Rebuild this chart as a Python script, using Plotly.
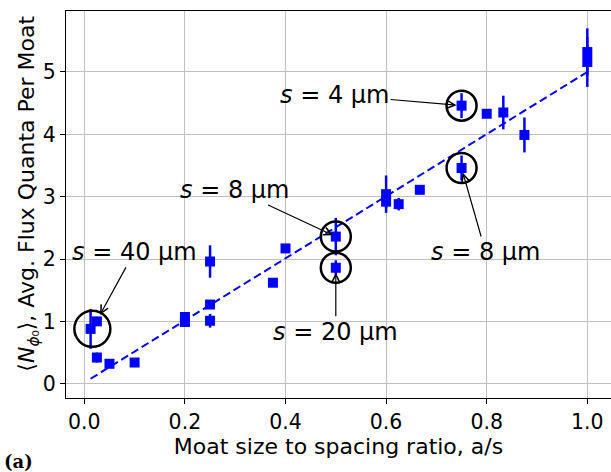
import plotly.graph_objects as go

# ---- data ----
ratio = [0.0125, 0.025, 0.025, 0.05, 0.1, 0.2, 0.2, 0.25, 0.25, 0.25, 0.375, 0.4,
         0.5, 0.5, 0.6, 0.6, 0.625, 0.667, 0.75, 0.75, 0.8, 0.833, 0.875, 1.0, 1.0]
flux = [0.88, 1.00, 0.42, 0.32, 0.34, 1.07, 0.99, 1.96, 1.27, 1.01, 1.62, 2.17,
        2.36, 1.86, 3.04, 2.92, 2.88, 3.11, 4.46, 3.46, 4.33, 4.35, 3.99, 5.32, 5.16]
flux_err = [0.32, 0.04, 0.08, 0.03, 0.03, 0.04, 0.03, 0.26, 0.05, 0.11, 0.03, 0.03,
            0.30, 0.12, 0.30, 0.10, 0.10, 0.05, 0.20, 0.20, 0.03, 0.27, 0.28, 0.38, 0.40]

fit_x = [0.0125, 1.0]
fit_y = [0.08, 5.0]

x_ticks = [0.0, 0.2, 0.4, 0.6, 0.8, 1.0]
x_ticklabels = ["0.0", "0.2", "0.4", "0.6", "0.8", "1.0"]
y_ticks = [0, 1, 2, 3, 4, 5]
y_ticklabels = ["0", "1", "2", "3", "4", "5"]

# highlighted points (circle centres) and their labels
hl_x = [0.016, 0.5, 0.5, 0.75, 0.75]
hl_y = [0.88, 2.36, 1.86, 4.46, 3.46]
hl_r = [18, 15, 15, 15, 15]

labels = ["<i>s</i> = 40 µm", "<i>s</i> = 8 µm", "<i>s</i> = 20 µm",
          "<i>s</i> = 4 µm", "<i>s</i> = 8 µm"]
label_ax = [42, -101, 0, -127, 24]
label_ay = [-77, -47, 64, -11, 84]
label_standoff = [16, 3, 5, 5, 5]

FONT = "DejaVu Sans"
BLUE = "#0000ff"

fig = go.Figure()

fig.add_trace(go.Scatter(
    x=fit_x, y=fit_y, mode="lines",
    line=dict(color=BLUE, width=2, dash="8px,4px"),
    showlegend=False, hoverinfo="skip"))

fig.add_trace(go.Scatter(
    x=ratio, y=flux, mode="markers",
    marker=dict(symbol="square", size=10, color=BLUE, line=dict(width=0)),
    error_y=dict(type="data", array=flux_err, visible=True,
                 thickness=2.5, width=0, color=BLUE),
    showlegend=False))

shapes = []
for cx, cy, r in zip(hl_x, hl_y, hl_r):
    shapes.append(dict(type="circle", xref="x", yref="y",
                       xsizemode="pixel", ysizemode="pixel",
                       xanchor=cx, yanchor=cy,
                       x0=-r, x1=r, y0=-r, y1=r,
                       line=dict(color="black", width=2.5)))

annotations = []
for txt, cx, cy, ax, ay, so in zip(labels, hl_x, hl_y, label_ax, label_ay, label_standoff):
    annotations.append(dict(
        x=cx, y=cy, xref="x", yref="y", text=txt,
        showarrow=True, ax=ax, ay=ay, arrowhead=5, arrowsize=1.3,
        arrowwidth=1.2, arrowcolor="black", standoff=so,
        font=dict(family=FONT, size=24, color="black")))

annotations.append(dict(
    x=0, y=0.528, xref="paper", yref="paper", xshift=-37,
    text="⟨<i>N</i><sub><i>ϕ</i>₀</sub>⟩, Avg. Flux Quanta Per Moat",
    textangle=-90, showarrow=False, xanchor="center", yanchor="middle",
    font=dict(family=FONT, size=22, color="black")))

annotations.append(dict(
    x=0, y=0, xref="paper", yref="paper", xshift=-48, yshift=-63,
    text="<b>(a)</b>", showarrow=False, xanchor="center", yanchor="middle",
    font=dict(family="DejaVu Serif", size=18, color="black")))

fig.update_layout(
    width=611, height=472,
    margin=dict(l=66, r=0, t=11, b=74),
    paper_bgcolor="white", plot_bgcolor="white",
    font=dict(family=FONT, size=20.5, color="black"),
    shapes=shapes, annotations=annotations,
    xaxis=dict(range=[-0.0364, 1.0471], tickvals=x_ticks, ticktext=x_ticklabels,
               showgrid=True, gridcolor="#c0c0c0", gridwidth=1,
               showline=True, linecolor="black", linewidth=1.3, mirror=True,
               ticks="outside", ticklen=5, tickwidth=1.3, tickcolor="black",
               zeroline=False, tickfont=dict(family=FONT, size=20.5),
               title=dict(text="Moat size to spacing ratio, a/s", standoff=3,
                          font=dict(family=FONT, size=22))),
    yaxis=dict(range=[-0.229, 5.978], tickvals=y_ticks, ticktext=y_ticklabels,
               showgrid=True, gridcolor="#c0c0c0", gridwidth=1,
               showline=True, linecolor="black", linewidth=1.3, mirror=False,
               ticks="outside", ticklen=5, tickwidth=1.3, tickcolor="black",
               zeroline=False, tickfont=dict(family=FONT, size=20.5)),
)

fig.write_html("out.html")
